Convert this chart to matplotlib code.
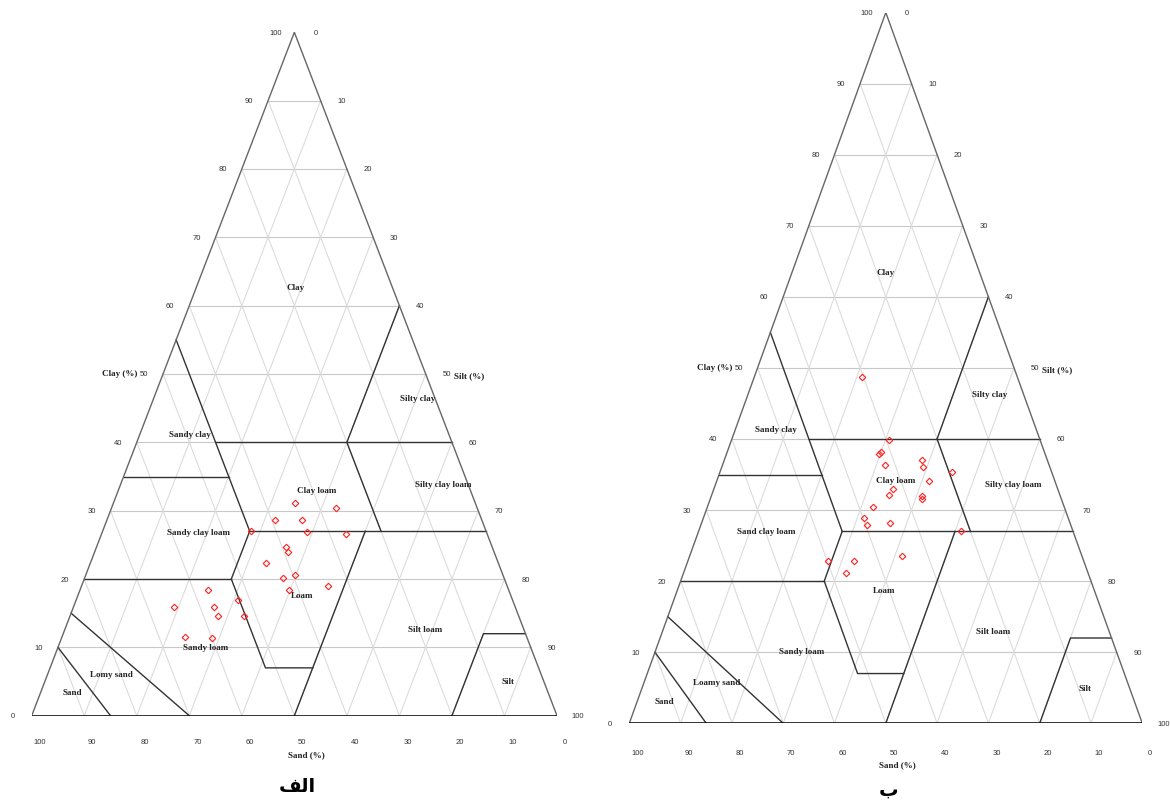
"""Two USDA soil texture triangles (الف / ب) with sample points."""

import matplotlib
import numpy as np

matplotlib.use("Agg")
import matplotlib.pyplot as plt

# --- data: samples as percentages ------------------------------------------
# left triangle (الف)
sand_a = [34.3, 26.9, 39.4, 34.3, 34.1, 44.8, 26.9, 39.3, 39.3, 44.3, 42.0,
          39.6, 34.1, 41.9, 57.3, 65.0, 57.3, 52.3, 57.3, 52.2, 65.0, 59.0]
silt_a = [34.6, 42.7, 32.0, 37.1, 39.0, 28.2, 46.5, 36.0, 36.7, 33.4, 37.8,
          39.8, 46.9, 39.7, 24.3, 19.1, 26.8, 30.7, 28.1, 33.2, 23.5, 28.6]
clay_a = [31.1, 30.4, 28.6, 28.6, 26.9, 27.0, 26.6, 24.7, 24.0, 22.3, 20.2,
          20.6, 19.0, 18.4, 18.4, 15.9, 15.9, 17.0, 14.6, 14.6, 11.5, 11.4]

# right triangle (ب)
sand_b = [30.3, 29.4, 32.3, 31.9, 32.0, 24.4, 24.7, 19.3, 24.6, 32.1, 33.4,
          26.9, 27.2, 37.2, 39.8, 39.7, 35.0, 21.8, 49.8, 44.8, 35.1, 47.3]
silt_b = [21.0, 30.8, 29.8, 29.9, 31.7, 38.5, 39.3, 45.3, 41.3, 34.9, 34.5,
          41.1, 41.3, 32.4, 31.3, 32.4, 36.8, 51.1, 27.4, 32.4, 41.4, 31.6]
clay_b = [48.7, 39.8, 37.9, 38.2, 36.3, 37.1, 36.0, 35.4, 34.1, 33.0, 32.1,
          32.0, 31.5, 30.4, 28.9, 27.9, 28.2, 27.1, 22.8, 22.8, 23.5, 21.1]

# --- USDA class boundaries as (sand, silt, clay) polylines -----------------
boundaries = [
    [(85, 15, 0), (90, 0, 10)],
    [(70, 30, 0), (85, 0, 15)],
    [(80, 0, 20), (52, 28, 20)],
    [(45, 28, 27), (52, 28, 20), (52, 41, 7), (43, 50, 7)],
    [(50, 50, 0), (43, 50, 7), (23, 50, 27)],
    [(45, 28, 27), (0, 73, 27)],
    [(65, 0, 35), (45, 20, 35)],
    [(45, 0, 55), (45, 28, 27)],
    [(45, 15, 40), (0, 60, 40)],
    [(20, 40, 40), (20, 53, 27)],
    [(20, 40, 40), (0, 40, 60)],
    [(20, 80, 0), (8, 80, 12), (0, 88, 12)],
]

ticks = list(range(0, 101, 10))

classes_a = ["Clay", "Silty clay", "Sandy clay", "Clay loam", "Silty clay loam",
             "Sandy clay loam", "Loam", "Silt loam", "Sandy loam", "Lomy sand",
             "Sand", "Silt"]
classes_b = ["Clay", "Silty clay", "Sandy clay", "Clay loam", "Silty clay loam",
             "Sand clay loam", "Loam", "Silt loam", "Sandy loam", "Loamy sand",
             "Sand", "Silt"]
# label anchors in plot coords (x = silt + clay/2, y = clay)
label_xy_a = [(50.3, 62.8), (73.5, 46.5), (30.2, 41.2), (54.2, 33.0), (78.3, 33.9),
              (31.8, 26.9), (51.5, 17.6), (74.9, 12.7), (33.2, 10.0), (15.1, 6.1),
              (7.7, 3.5), (90.7, 5.1)]
label_xy_b = [(50.0, 63.5), (70.3, 46.3), (28.6, 41.4), (52.0, 34.2), (74.8, 33.7),
              (26.6, 27.1), (49.6, 18.8), (70.9, 13.0), (33.5, 10.2), (17.1, 5.8),
              (6.8, 3.1), (88.8, 5.0)]

# panel captions, glyphs in visual order (matplotlib has no Arabic shaping)
caption_a = "\ufed2\ufedf\ufe8d"  # الف
caption_b = "\u0628"  # ب

W, H = 1170, 803
SERIF = "Liberation Serif"
SANS = "Liberation Sans"


def to_xy(sand, silt, clay):
    sand, silt, clay = (np.asarray(v, dtype=float) for v in (sand, silt, clay))
    return silt + clay / 2.0, clay


def draw_triangle(fig, box, sand, silt, clay, names, names_xy, caption,
                  sand_dy, cap_dy):
    left, right, base, apex = box
    ax = fig.add_axes([left / W, 1 - base / H, (right - left) / W, (base - apex) / H])
    ax.set_xlim(0, 100)
    ax.set_ylim(0, 100)
    ax.axis("off")

    # grid
    for t in ticks[1:-1]:
        ax.plot([t / 2, 100 - t / 2], [t, t], color="#c8c8c8", lw=0.8, zorder=1)
        ax.plot([t, t + (100 - t) / 2], [0, 100 - t], color="#dcdcdc", lw=0.8, zorder=1)
        ax.plot([t, t / 2], [0, t], color="#dcdcdc", lw=0.8, zorder=1)

    # class boundaries
    for line in boundaries:
        s, si, c = zip(*line)
        x, y = to_xy(s, si, c)
        ax.plot(x, y, color="#333333", lw=1.0, zorder=2)

    # outline
    ax.plot([0, 50, 100], [0, 100, 0], color="#666666", lw=1.0, zorder=3)
    ax.plot([0, 100], [0, 0], color="#111111", lw=1.2, zorder=3)

    # tick labels
    tk = dict(textcoords="offset pixels", fontsize=5.5, family=SANS,
              color="#333333", ha="center", va="center", annotation_clip=False)
    for t in ticks:
        ax.annotate(str(t), (t / 2, t), xytext=(-19, 0), **tk)          # clay
        ax.annotate(str(100 - t), (100 - t / 2, t), xytext=(21, 0), **tk)  # silt
        ax.annotate(str(100 - t), (t, 0), xytext=(8, sand_dy), **tk)     # sand

    ttl = dict(textcoords="offset pixels", fontsize=6.5, family=SERIF,
               weight="bold", color="#222222", ha="center", va="center",
               annotation_clip=False)
    ax.annotate("Clay (%)", (25, 50), xytext=(-43, 1), **ttl)
    ax.annotate("Silt (%)", (75, 50), xytext=(43, -1), **ttl)
    ax.annotate("Sand (%)", (50, 0), xytext=(12, sand_dy - 12), **ttl)

    for name, (x, y) in zip(names, names_xy):
        ax.text(x, y, name, fontsize=6.5, family=SERIF, weight="bold",
                color="#222222", ha="center", va="center", zorder=4)

    x, y = to_xy(sand, silt, clay)
    ax.plot(x, y, linestyle="none", marker="D", markersize=3.3,
            markerfacecolor="none", markeredgecolor="#ff2020",
            markeredgewidth=0.8, zorder=5)

    ax.annotate(caption, (50, 0), xytext=(3, cap_dy),
                textcoords="offset pixels", fontsize=14, family="DejaVu Sans",
                weight="bold", ha="center", va="center", annotation_clip=False)
    return ax


fig = plt.figure(figsize=(W / 100, H / 100), dpi=100)
draw_triangle(fig, (31.7, 557.0, 716.7, 33.3), sand_a, silt_a, clay_a,
              classes_a, label_xy_a, caption_a, -26, -70)
draw_triangle(fig, (629.3, 1142.3, 724.3, 13.5), sand_b, silt_b, clay_b,
              classes_b, label_xy_b, caption_b, -29, -66)

fig.savefig("out.png", dpi=100)
plt.close()
